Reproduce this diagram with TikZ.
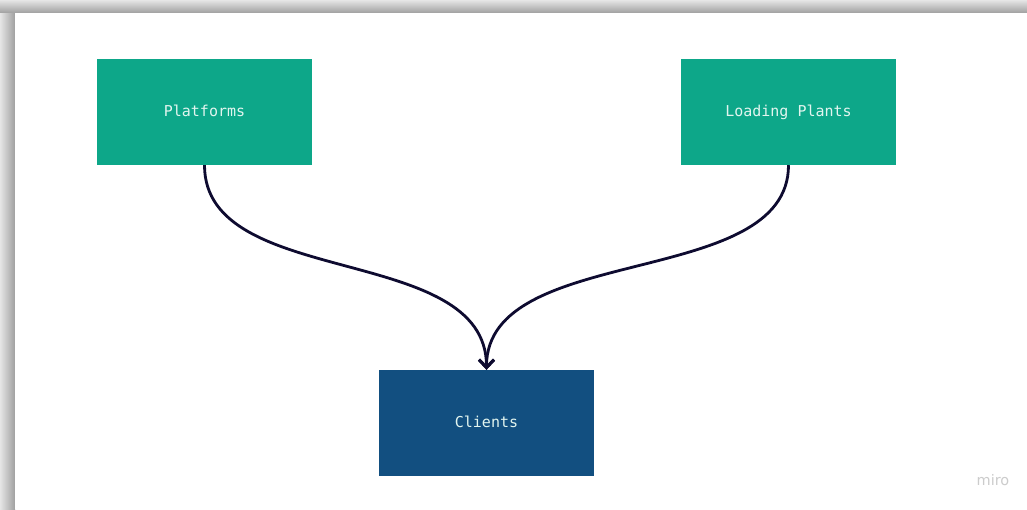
\documentclass[tikz,border=0pt]{standalone}
\usepackage{fontspec}
\setmonofont{DejaVu Sans Mono}
\setsansfont{DejaVu Sans}
\usepackage{tikz}
\usetikzlibrary{arrows,arrows.meta}

\definecolor{plantgreen}{HTML}{0DA789}
\definecolor{clientblue}{HTML}{124F80}
\definecolor{wire}{HTML}{0E0B30}
\definecolor{boxtext}{HTML}{E2F5EF}

\begin{document}
\begin{tikzpicture}[
x=1pt, y=-1pt,
obj/.style={minimum width=215pt, minimum height=106pt, inner sep=0pt, text height=11pt, text depth=3pt, text=boxtext, font=\ttfamily\fontsize{15}{17}\selectfont},
plant/.style={obj, fill=plantgreen},
client/.style={obj, fill=clientblue},
arrow/.style={-{Straight Barb[length=8pt,width=15pt,line width=3pt]}, line width=2.8pt, draw=wire} ]

\useasboundingbox (0,0) rectangle (1027,509);

% frame with its shadow
\shade[top color=gray!20, bottom color=gray!75] (0,0) rectangle (1027,13);
\shade[left color=gray!20, right color=gray!75] (0,13) rectangle (15,509);
\fill[white] (15,13) rectangle (1027,509);

\node[plant](P) at (204.5,112) {Platforms};

\node[plant](L) at (788.5,112) {Loading Plants};

\node[client](C) at (486.5,423) {Clients};

\draw[arrow] (P.south) .. controls +(0,125) and +(0,-128) .. (C.north);

\draw[arrow] (L.south) .. controls +(0,125) and +(0,-128) .. (C.north);

\node[text=gray!40, font=\sffamily\fontsize{14.5}{16}\selectfont](M) at (993,480) {miro};

\end{tikzpicture}
\end{document}
